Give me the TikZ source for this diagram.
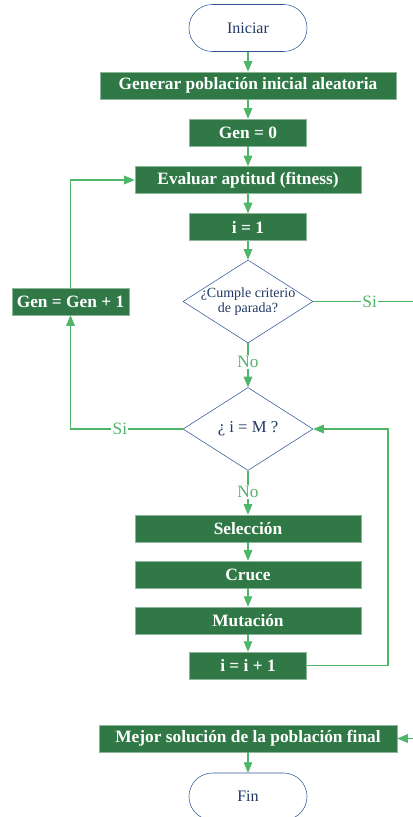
\documentclass[tikz,border=0pt]{standalone}
\usepackage{fontspec}
\setmainfont{Liberation Serif}
\usetikzlibrary{shapes.geometric,arrows}

\definecolor{boxgreen}{RGB}{48,121,70}
\definecolor{linegreen}{RGB}{78,182,104}
\definecolor{edgeblue}{RGB}{47,85,151}
\definecolor{textblue}{RGB}{32,56,100}

\begin{document}
\begin{tikzpicture}[x=0.75pt, y=-0.75pt,
    proc/.style={rectangle, fill=boxgreen, draw=boxgreen!55!white, text=white,
      font=\fontsize{13}{15}\selectfont\bfseries, minimum height=20.25pt, inner sep=0pt},
    term/.style={rectangle, rounded corners=17.5pt, draw=edgeblue, fill=white,
      text=textblue, font=\fontsize{12}{14}\selectfont,
      minimum width=88.5pt, minimum height=35.25pt},
    dec/.style={diamond, draw=edgeblue, fill=white, text=textblue, align=center,
      aspect=1.57, inner sep=-8pt, minimum width=97.5pt, minimum height=62.25pt},
    lbl/.style={fill=white, text=linegreen, inner sep=1pt,
      font=\fontsize{13}{15}\selectfont},
    flow/.style={->, draw=linegreen, line width=0.8pt},
    >=triangle 45]
    \useasboundingbox (0,0) rectangle (413,817);
    \clip (0,0) rectangle (413,817);
    \node[term] (start) at (248,28) {Iniciar};
    \node[proc, minimum width=222pt] (init) at (248,85.5) {Generar población inicial aleatoria};
    \node[proc, minimum width=87.75pt] (gen0) at (248,132.5) {Gen = 0};
    \node[proc, minimum width=169.5pt] (eval) at (248,180) {Evaluar aptitud (fitness)};
    \node[proc, minimum width=87.75pt] (i1) at (248,227) {i = 1};
    \node[dec, font=\fontsize{10.5}{11.5}\selectfont] (stop) at (248,301.5) {¿Cumple criterio\\de parada?};
    \node[proc, minimum width=87.75pt] (gennext) at (70.5,301.5) {Gen = Gen + 1};
    \node[dec, font=\fontsize{12.5}{14}\selectfont] (last) at (248,429) {¿ i = M ?};
    \node[proc, minimum width=169.5pt] (sel) at (248,528.5) {Selección};
    \node[proc, minimum width=169.5pt] (cross) at (248,574.5) {Cruce};
    \node[proc, minimum width=169.5pt] (mut) at (248,620.5) {Mutación};
    \node[proc, minimum width=87.75pt] (inext) at (248,665.5) {i = i + 1};
    \node[proc, minimum width=223.5pt] (best) at (248,738.5) {Mejor solución de la población final};
    \node[term] (finish) at (248,796.5) {Fin};
    \coordinate (loop) at (388,665.5);
    \coordinate (exit) at (426,301.5);
    % main column
    \draw[flow] (start) -- (init);
    \draw[flow] (init) -- (gen0);
    \draw[flow] (gen0) -- (eval);
    \draw[flow] (eval) -- (i1);
    \draw[flow] (i1) -- (stop);
    \draw[flow] (stop) -- node[lbl, pos=0.42] {No} (last);
    \draw[flow] (last) -- node[lbl, pos=0.48] {No} (sel);
    \draw[flow] (sel) -- (cross);
    \draw[flow] (cross) -- (mut);
    \draw[flow] (mut) -- (inext);
    \draw[flow] (best) -- (finish);
    % loops
    \draw[flow] (last.west) -| node[lbl, pos=0.28] {Si} (gennext.south);
    \draw[flow] (gennext.north) |- (eval.west);
    \draw[flow] (inext.east) -- (loop) |- (last.east);
    \draw[flow] (stop.east) -- node[lbl] {Si} (exit) |- (best.east);
\end{tikzpicture}
\end{document}
